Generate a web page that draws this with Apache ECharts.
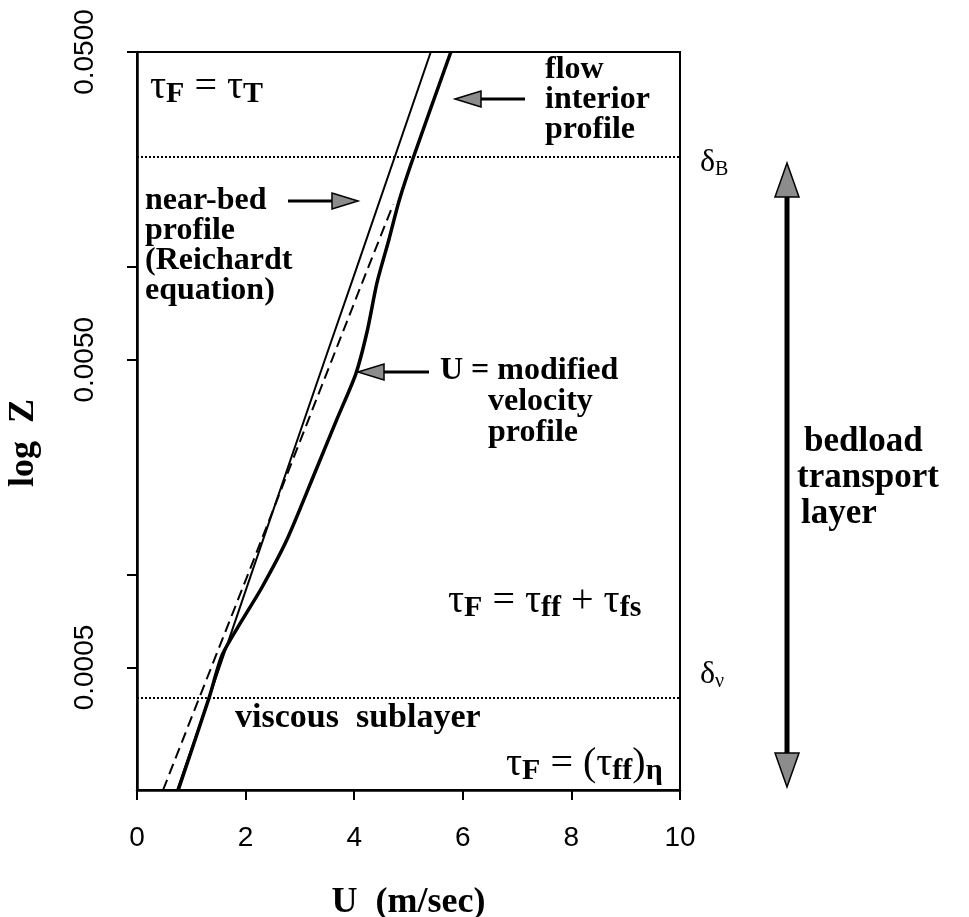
<!DOCTYPE html>
<html>
<head>
<meta charset="utf-8">
<script src="https://cdn.jsdelivr.net/npm/echarts@6/dist/echarts.min.js"></script>
<style>
  html, body { margin: 0; padding: 0; background: #fff; }
  #chart { width: 969px; height: 917px; }
</style>
</head>
<body>
<div id="chart"></div>
<script>
// Height above the bed Z (m) and mean velocity U (m/s)
const nearBedZ = [0.0002, 0.0004, 0.001, 0.005, 0.01, 0.05];
const nearBedU = [0.74, 1.33, 2.10, 3.46, 4.05, 5.41];

const logLawZ = [0.0002, 0.0004, 0.001, 0.005, 0.01, 0.016];
const logLawU = [0.48, 1.15, 2.04, 3.59, 4.26, 4.72];

const modifiedZ = [0.0002, 0.0004, 0.00055, 0.00071, 0.00091, 0.0013, 0.0022, 0.0032, 0.0045, 0.0062, 0.0089, 0.0123, 0.0165, 0.023, 0.05];
const modifiedU = [0.76, 1.33, 1.57, 1.93, 2.30, 2.76, 3.30, 3.68, 4.03, 4.24, 4.42, 4.64, 4.83, 5.10, 5.78];

// Layer boundaries
const deltaB = 0.023;    // top of bedload transport layer
const deltaNu = 0.0004;  // top of viscous sublayer

// Axis extents and ticks
const zMin = 0.0002, zMax = 0.05;
const zTickValues = [0.05, 0.01, 0.005, 0.001, 0.0005];
const zLabelValues = [0.05, 0.005, 0.0005];
const uMin = 0, uMax = 10, uStep = 2;

const lg = Math.log10;
const pairs = (us, zs) => us.map((u, i) => [u, lg(zs[i])]);

const SERIF = "'Liberation Serif', 'Times New Roman', serif";
const SANS = "'Liberation Sans', Arial, sans-serif";
const ARROW_FILL = '#8c8c8c';

function text(x, y, str, size, extra) {
  return {
    type: 'text', x: x, y: y, silent: true,
    style: Object.assign({
      text: str, fill: '#000', fontFamily: SERIF, fontWeight: 'bold',
      fontSize: size, align: 'left', verticalAlign: 'top'
    }, extra || {})
  };
}

// Rich-text styles for the shear-stress expressions
const tauRich = {
  t: { fontFamily: SERIF, fontSize: 40, lineHeight: 44, verticalAlign: 'middle', fill: '#000' },
  s: { fontFamily: SERIF, fontWeight: 'bold', fontSize: 30, lineHeight: 22, verticalAlign: 'bottom', fill: '#000' },
  e: { fontFamily: SERIF, fontSize: 40, lineHeight: 44, verticalAlign: 'middle', fill: '#000' }
};
const deltaRich = {
  d: { fontFamily: SERIF, fontSize: 32, lineHeight: 34, verticalAlign: 'middle', fill: '#000' },
  s: { fontFamily: SERIF, fontSize: 20, lineHeight: 20, verticalAlign: 'bottom', fill: '#000' }
};
function richText(x, y, str, rich) {
  return { type: 'text', x: x, y: y, silent: true,
    style: { text: str, rich: rich, align: 'left', verticalAlign: 'top', fill: '#000' } };
}

// Horizontal arrow: shaft plus grey triangular head pointing at tipX
function hArrow(tipX, y, tailX) {
  const dir = tailX > tipX ? 1 : -1;
  const headLen = 26, half = 8;
  const baseX = tipX + dir * headLen;
  return [
    { type: 'line', silent: true, shape: { x1: baseX, y1: y, x2: tailX, y2: y },
      style: { stroke: '#000', lineWidth: 3 } },
    { type: 'polygon', silent: true,
      shape: { points: [[tipX, y], [baseX, y - half], [baseX, y + half]] },
      style: { fill: ARROW_FILL, stroke: '#000', lineWidth: 1.5 } }
  ];
}
function vHead(x, tipY, dir) {
  const headLen = 34, half = 12;
  const baseY = tipY + dir * headLen;
  return { type: 'polygon', silent: true,
    shape: { points: [[x, tipY], [x - half, baseY], [x + half, baseY]] },
    style: { fill: ARROW_FILL, stroke: '#000', lineWidth: 1.5 } };
}

const chart = echarts.init(document.getElementById('chart'), null, { renderer: 'canvas' });

const option = {
  backgroundColor: '#fff',
  animation: false,
  grid: {
    left: 137, right: 289, top: 52, bottom: 127,
    outerBoundsMode: 'none', containLabel: false,
    show: true, borderColor: '#000', borderWidth: 2, backgroundColor: 'transparent'
  },
  xAxis: {
    type: 'value', min: uMin, max: uMax, interval: uStep,
    name: 'U  (m/sec)', nameLocation: 'middle', nameGap: 95,
    nameTextStyle: { fontFamily: SERIF, fontWeight: 'bold', fontSize: 36, color: '#000' },
    axisLine: { lineStyle: { color: '#000', width: 2.5 } },
    axisTick: { inside: false, length: 10, lineStyle: { color: '#000', width: 2 } },
    axisLabel: { fontFamily: SANS, fontSize: 28, color: '#000', margin: 34 },
    splitLine: { show: false }
  },
  yAxis: {
    type: 'value', min: lg(zMin), max: lg(zMax),
    name: 'log  Z', nameLocation: 'middle', nameGap: 95,
    nameTextStyle: { fontFamily: SERIF, fontWeight: 'bold', fontSize: 36, color: '#000',
      padding: [0, 44, 0, 0] },
    axisLine: { lineStyle: { color: '#000', width: 2.5 } },
    axisTick: { inside: false, length: 10, customValues: zTickValues.map(lg),
      lineStyle: { color: '#000', width: 2 } },
    axisLabel: {
      customValues: zLabelValues.map(lg), rotate: 90, margin: 38,
      fontFamily: SANS, fontSize: 28, color: '#000',
      formatter: v => Math.pow(10, v).toFixed(4)
    },
    splitLine: { show: false }
  },
  series: [
    {
      name: 'near-bed profile (Reichardt equation)', type: 'line',
      data: pairs(nearBedU, nearBedZ), showSymbol: false, silent: true,
      lineStyle: { color: '#000', width: 2 }, z: 3,
      markLine: {
        silent: true, symbol: 'none', label: { show: false },
        lineStyle: { color: '#000', width: 2, type: [2, 2] },
        data: [{ yAxis: lg(deltaB) }, { yAxis: lg(deltaNu) }]
      }
    },
    {
      name: 'log-law extension', type: 'line',
      data: pairs(logLawU, logLawZ), showSymbol: false, silent: true,
      lineStyle: { color: '#000', width: 2, type: [11, 6] }, z: 3
    },
    {
      name: 'modified velocity profile', type: 'line',
      data: pairs(modifiedU, modifiedZ), showSymbol: false, silent: true,
      smooth: 0.25,
      lineStyle: { color: '#000', width: 3.5, join: 'round' }, z: 4
    }
  ],
  graphic: [
    richText(150, 65, '{t|τ}{s|F}{e| = }{t|τ}{s|T}', tauRich),
    text(545, 55, 'flow\ninterior\nprofile', 32, { lineHeight: 30 }),
    ...hArrow(455, 99, 525),
    richText(700, 146, '{d|δ}{s|B}', deltaRich),
    text(145, 186, 'near-bed\nprofile\n(Reichardt\nequation)', 32, { lineHeight: 30 }),
    ...hArrow(358, 201, 288),
    text(440, 355, 'U = modified', 32),
    text(488, 386, 'velocity\nprofile', 32, { lineHeight: 31 }),
    ...hArrow(358, 372, 429),
    text(804, 424, 'bedload', 35),
    text(797, 460, 'transport', 35),
    text(801, 496, 'layer', 35),
    richText(448, 579, '{t|τ}{s|F}{e| = }{t|τ}{s|ff}{e| + }{t|τ}{s|fs}', tauRich),
    richText(700, 658, '{d|δ}{s|ν}', deltaRich),
    text(235, 701, 'viscous  sublayer', 34),
    richText(506, 742, '{t|τ}{s|F}{e| = (}{t|τ}{s|ff}{e|)}{s|η}', tauRich),
    { type: 'line', silent: true, shape: { x1: 787, y1: 190, x2: 787, y2: 760 },
      style: { stroke: '#000', lineWidth: 5 } },
    vHead(787, 163, 1),
    vHead(787, 787, -1)
  ]
};

chart.setOption(option);
</script>
</body>
</html>
